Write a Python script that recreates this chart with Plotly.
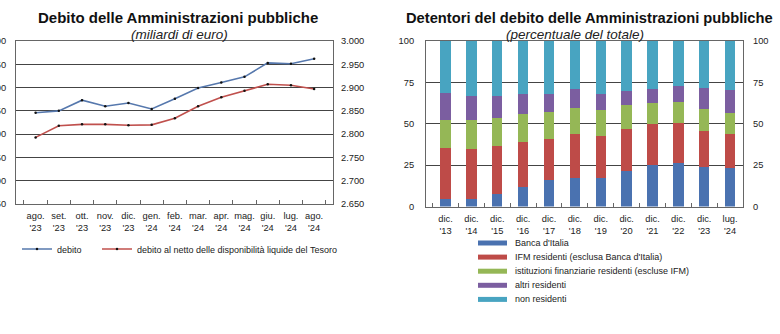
import plotly.graph_objects as go

# ---------------- data ----------------
months = ["ago.<br>'23", "set.<br>'23", "ott.<br>'23", "nov.<br>'23", "dic.<br>'23",
          "gen.<br>'24", "feb.<br>'24", "mar.<br>'24", "apr.<br>'24", "mag.<br>'24",
          "giu.<br>'24", "lug.<br>'24", "ago.<br>'24"]
debito = [2846, 2850, 2873, 2860, 2867, 2854, 2876, 2899, 2911, 2923, 2953, 2951, 2962]
debito_netto = [2793, 2818, 2821, 2821, 2819, 2820, 2834, 2860, 2879, 2893, 2907, 2905, 2897]
line_names = ["debito", "debito al netto delle disponibilità liquide del Tesoro"]
left_ticks = [2650, 2700, 2750, 2800, 2850, 2900, 2950, 3000]

periods = ["dic.<br>'13", "dic.<br>'14", "dic.<br>'15", "dic.<br>'16", "dic.<br>'17",
           "dic.<br>'18", "dic.<br>'19", "dic.<br>'20", "dic.<br>'21", "dic.<br>'22",
           "dic.<br>'23", "lug.<br>'24"]
banca_italia = [4.8, 4.8, 7.4, 11.9, 15.9, 17.1, 17.0, 21.7, 25.1, 26.1, 24.1, 23.1]
ifm_residenti = [30.6, 30.0, 29.4, 27.3, 25.1, 26.8, 25.6, 25.2, 24.5, 24.1, 21.7, 20.5]
ist_finanziarie = [16.8, 17.6, 16.8, 16.6, 16.0, 15.8, 15.9, 14.3, 13.1, 13.2, 13.2, 12.7]
altri_residenti = [16.6, 14.6, 13.2, 12.0, 10.7, 11.0, 9.4, 8.7, 8.0, 9.5, 12.9, 14.0]
non_residenti = [31.2, 33.0, 33.2, 32.2, 32.3, 29.3, 32.1, 30.1, 29.3, 27.1, 28.1, 29.7]
bar_names = ["Banca d'Italia", "IFM residenti (esclusa Banca d'Italia)",
             "istituzioni finanziarie residenti (escluse IFM)", "altri residenti", "non residenti"]
right_ticks = [0, 25, 50, 75, 100]

# ---------------- style ----------------
W, H = 780, 334
FONT = "Liberation Sans, Arial, sans-serif"
line_colors = ["#5678ad", "#c0504d"]
bar_colors = ["#4a72b0", "#be4b48", "#95b756", "#7b5ea0", "#48a4c1"]

def px_x(x):
    return x / W

def px_y(y):
    return 1 - y / H

fig = go.Figure()

# left chart lines (each in its own legend box so the spacing matches)
for vals, name, col, leg in zip([debito, debito_netto], line_names, line_colors, ["legend", "legend2"]):
    fig.add_trace(go.Scatter(
        x=months, y=vals, name=name, mode="lines+markers",
        line=dict(color=col, width=1.6),
        marker=dict(color="#111111", size=2.5),
        xaxis="x", yaxis="y", legend=leg))

# right chart bars
series = [banca_italia, ifm_residenti, ist_finanziarie, altri_residenti, non_residenti]
for vals, name, col in zip(series, bar_names, bar_colors):
    fig.add_trace(go.Bar(x=periods, y=vals, name=name, marker=dict(color=col, line=dict(width=0)),
                         xaxis="x2", yaxis="y3", showlegend=False))

# invisible traces to activate right-side axes
fig.add_trace(go.Scatter(x=[months[0]], y=[None], xaxis="x", yaxis="y2", showlegend=False, hoverinfo="skip"))
fig.add_trace(go.Scatter(x=[periods[0]], y=[None], xaxis="x2", yaxis="y4", showlegend=False, hoverinfo="skip"))

grid_c = "#444444"
frame_c = "#666666"
tickfont = dict(family=FONT, size=9.3, color="#222222")

lx = [px_x(16), px_x(333)]
ly = [px_y(204), px_y(41)]
rx = [px_x(426), px_x(743)]
ry = [px_y(206.5), px_y(41)]

common_x = dict(type="category", tickfont=tickfont, ticks="inside", ticklen=4, tickangle=0,
                tickcolor=frame_c, tickson="boundaries", showgrid=False,
                showline=True, linecolor=frame_c, mirror=True,
                automargin=False, ticklabelstandoff=3)

leg_common = dict(orientation="h", y=px_y(249), xanchor="left", yanchor="middle",
                  font=dict(family=FONT, size=9, color="#222222"), bgcolor="rgba(0,0,0,0)",
                  itemwidth=30)

fig.update_layout(
    width=W, height=H, margin=dict(l=0, r=0, t=0, b=0),
    paper_bgcolor="white", plot_bgcolor="white",
    separators=",.",
    font=dict(family=FONT, size=9, color="#222222"),
    barmode="stack", bargap=0.6,
    showlegend=True,
    xaxis=dict(domain=lx, anchor="y", **common_x),
    yaxis=dict(domain=ly, range=[2650, 3000], tickvals=left_ticks, tickformat=",d",
               tickfont=tickfont, showgrid=True, gridcolor=grid_c, gridwidth=1,
               showline=True, linecolor=frame_c, mirror=True,
               zeroline=False, anchor="x", automargin=False, ticklabelstandoff=7),
    yaxis2=dict(domain=ly, range=[2650, 3000], tickvals=left_ticks, tickformat=",d",
                tickfont=tickfont, overlaying="y", side="right", anchor="x",
                showgrid=False, zeroline=False, automargin=False, ticklabelstandoff=7),
    xaxis2=dict(domain=rx, anchor="y3", **common_x),
    yaxis3=dict(domain=ry, range=[0, 100], tickvals=right_ticks, tickfont=tickfont,
                showgrid=True, gridcolor=grid_c, gridwidth=1, zeroline=False,
                showline=True, linecolor=frame_c, mirror=True,
                anchor="x2", automargin=False, ticklabelstandoff=9),
    yaxis4=dict(domain=ry, range=[0, 100], tickvals=right_ticks, tickfont=tickfont,
                overlaying="y3", side="right", anchor="x2", showgrid=False,
                zeroline=False, automargin=False, ticklabelstandoff=9),
    legend=dict(x=px_x(17), **leg_common),
    legend2=dict(x=px_x(97), **leg_common),
)

annotations = [
    dict(text="<b>Debito delle Amministrazioni pubbliche</b>", x=px_x(178), y=px_y(18),
         font=dict(family=FONT, size=15, color="#111111")),
    dict(text="<i>(miliardi di euro)</i>", x=px_x(179), y=px_y(34),
         font=dict(family=FONT, size=13.5, color="#222222")),
    dict(text="<b>Detentori del debito delle Amministrazioni pubbliche</b>", x=px_x(589), y=px_y(18),
         font=dict(family=FONT, size=14.7, color="#111111")),
    dict(text="<i>(percentuale del totale)</i>", x=px_x(575), y=px_y(34),
         font=dict(family=FONT, size=13.5, color="#222222")),
]
for a in annotations:
    a.update(xref="paper", yref="paper", xanchor="center", yanchor="middle", showarrow=False)

shapes = []
leg_y0, leg_dy = 243, 14.1
for i, (name, col) in enumerate(zip(bar_names, bar_colors)):
    yy = px_y(leg_y0 + i * leg_dy)
    shapes.append(dict(type="line", xref="paper", yref="paper", x0=px_x(478), x1=px_x(507),
                       y0=yy, y1=yy, line=dict(color=col, width=5)))
    annotations.append(dict(text=name, xref="paper", yref="paper", x=px_x(513), y=yy,
                            xanchor="left", yanchor="middle", showarrow=False,
                            font=dict(family=FONT, size=9, color="#222222")))

fig.update_layout(annotations=annotations, shapes=shapes)

fig.write_html("out.html")
